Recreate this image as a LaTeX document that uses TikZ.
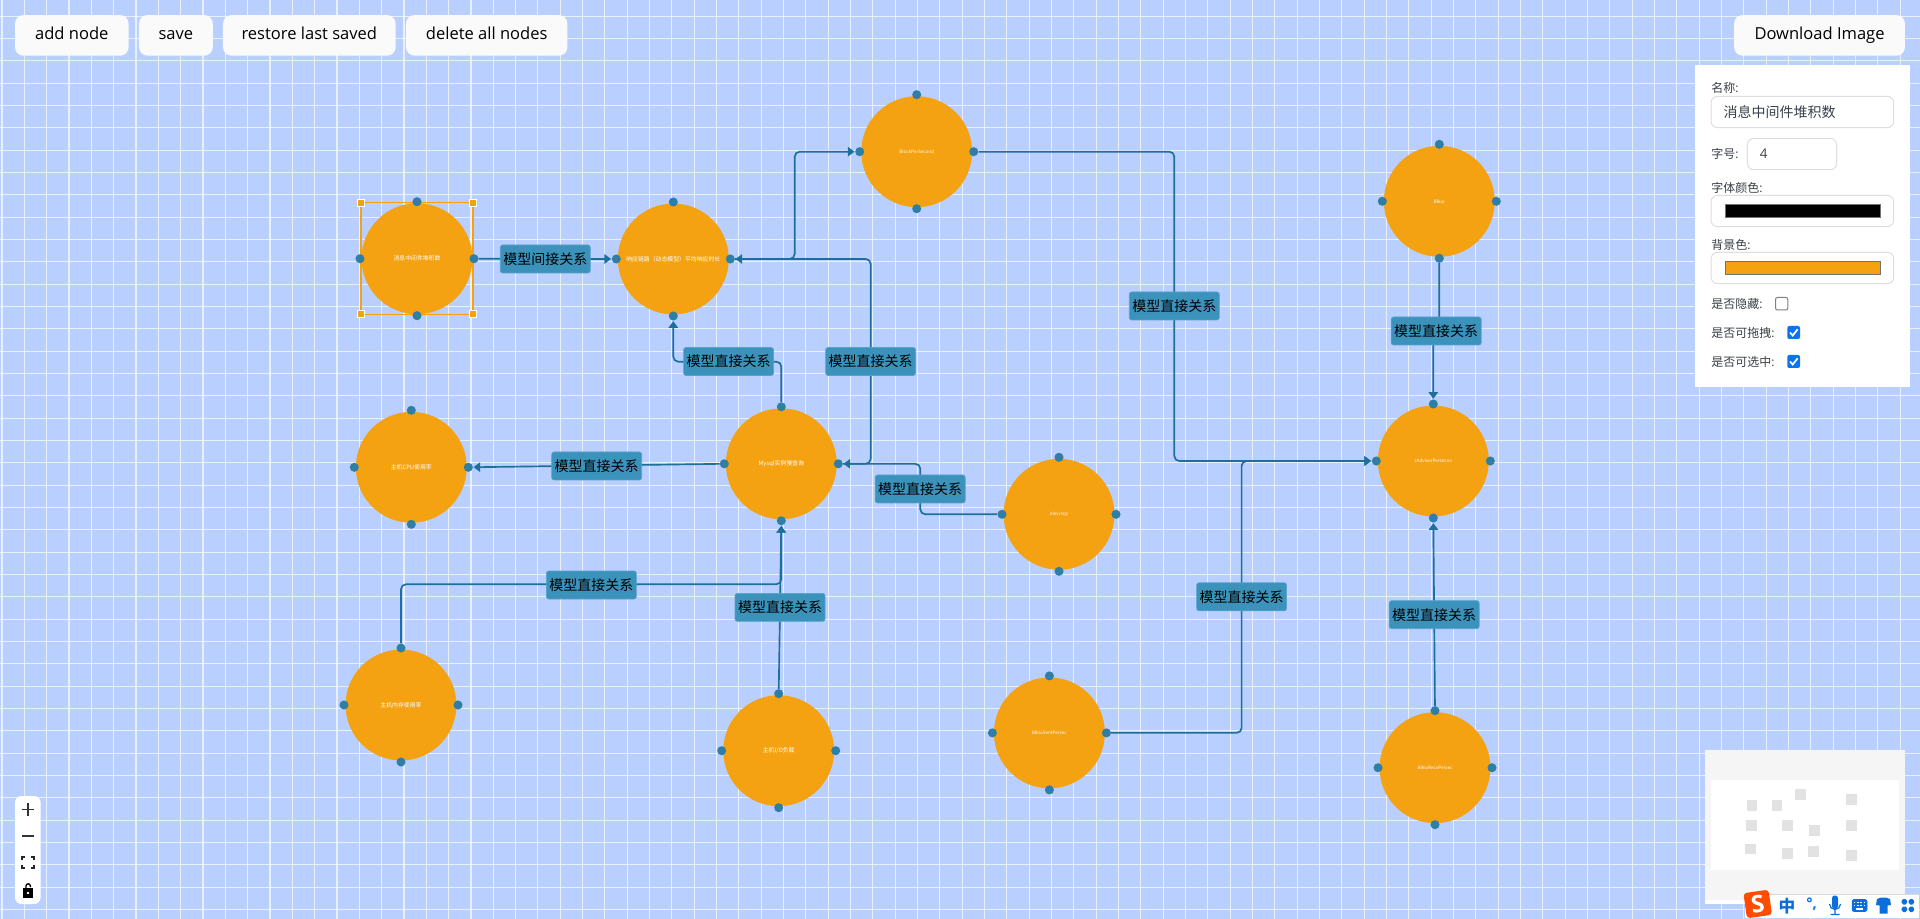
\documentclass[tikz,border=0pt]{standalone}
\usepackage{fontspec}
\setmainfont{Noto Sans CJK SC}
\newfontfamily\latinf{Open Sans}
\usetikzlibrary{arrows.meta,shapes.geometric}
\definecolor{bgblue}{HTML}{B8CFFF}
\definecolor{nodeorange}{HTML}{F4A211}
\definecolor{portblue}{HTML}{2F7EA6}
\definecolor{edgeblue}{HTML}{1D6F9C}
\definecolor{labelblue}{HTML}{3B92BB}
\definecolor{labelborder}{HTML}{5AA2CE}
\definecolor{btnwhite}{HTML}{FAFAFA}
\definecolor{fieldline}{HTML}{DEDEDE}
\definecolor{paneltext}{HTML}{3A3F48}
\definecolor{checkblue}{HTML}{0A74F0}
\definecolor{imeblue}{HTML}{0A6FDC}
\definecolor{miniout}{HTML}{F5F5F5}
\definecolor{minisq}{HTML}{E2E2E2}
\newcommand{\fsz}[1]{\fontsize{#1}{#1}\selectfont}
\tikzset{
  x=0.75pt,y=-0.75pt,
  gridline/.style={white,opacity=.68,line width=.85pt},
  circ/.style={circle,fill=nodeorange,minimum size=83.2pt,inner sep=0pt,text=white,font=\fsz{4.4}},
  port/.style={circle,fill=portblue,minimum size=6.8pt,inner sep=0pt},
  edge/.style={draw=edgeblue,line width=1.25pt,rounded corners=3.75pt},
  arrowedge/.style={edge,-{Triangle[length=5pt,width=7pt]},shorten >=0.3pt},
  edgelabel/.style={fill=labelblue,draw=labelborder,line width=.5pt,rounded corners=1.8pt,minimum width=67.5pt,minimum height=21pt,inner sep=0pt,text=black,font=\fsz{10.5}},
  btn/.style={fill=btnwhite,rounded corners=6.5pt,inner sep=0pt,minimum height=30.5pt,text=black,text depth=2.6pt,text height=9pt,font=\latinf\fsz{12.4}},
  plabel/.style={anchor=west,inner sep=0pt,text=paneltext,font=\fsz{9}},
  field/.style={draw=fieldline,fill=white,line width=.75pt,rounded corners=5pt},
  swatch/.style={draw=black!55,line width=.75pt},
  sel/.style={draw=white,fill=nodeorange,line width=.7pt},
  ctrl/.style={fill=white,rounded corners=5pt},
  minisquare/.style={fill=minisq},
}
\newcommand{\modelnode}[4]{%
  \node[circ] (#1) at (#2,#3) {#4};
  \node[port] (#1-t) at (#2,#3-57) {};
  \node[port] (#1-b) at (#2,#3+57) {};
  \node[port] (#1-l) at (#2-57,#3) {};
  \node[port] (#1-r) at (#2+57,#3) {};
}
\begin{document}
\begin{tikzpicture}
\useasboundingbox (0,0) rectangle (1920,919);
\fill[bgblue] (0,0) rectangle (1920,919);
\foreach \i in {0,...,85} \draw[gridline] ({2+22.33*\i},0) -- ({2+22.33*\i},919);
\foreach \i in {0,...,40} \draw[gridline] (0,{16.2+22.33*\i}) -- (1920,{16.2+22.33*\i});

% selection frame
\draw[nodeorange,line width=.9pt] (361,202.7) rectangle (473,314.5);

% model nodes
\modelnode{queue}{417}{258.7}{消息中间件堆积数}
\modelnode{resp}{673.3}{259}{响应链路（动态模型）平均响应时长}
\modelnode{top}{916.7}{151.7}{\fsz{3.4}BlockPerSecond}
\modelnode{blk}{1439.3}{201.3}{\fsz{3.4}Blkio}
\modelnode{cpu}{411.3}{467.3}{主机CPU使用率}
\modelnode{mysql}{781.3}{463.8}{Mysql实例慢查询}
\modelnode{net}{1059}{514.3}{\fsz{3.4}nlevi-tcp}
\modelnode{hub}{1433.3}{461}{\fsz{3.4}cAdvisorPersecon}
\modelnode{mem}{401}{705}{主机内存使用率}
\modelnode{io}{778.7}{750.7}{主机I/O负载}
\modelnode{sent}{1049.4}{732.9}{\fsz{3.4}BlkioSentPersec}
\modelnode{recv}{1435}{767.7}{\fsz{3.4}BlkioRecvPersec}

% routing points
\coordinate (w1) at (673.3,361.7);
\coordinate (w2) at (781.3,361.7);
\coordinate (w3) at (870.7,463.8);
\coordinate (w4) at (870.7,259);
\coordinate (w5) at (794.7,259);
\coordinate (w6) at (794.7,151.7);
\coordinate (w7) at (1174.3,151.7);
\coordinate (w8) at (1174.3,461);
\coordinate (w9) at (920.3,514.3);
\coordinate (w10) at (920.3,463.8);
\coordinate (w11) at (401,584.3);
\coordinate (w12) at (781.3,584.3);
\coordinate (w13) at (1241.6,732.9);
\coordinate (w14) at (1241.6,461);
\coordinate (w15) at (1439.3,331);
\coordinate (w16) at (1433.3,331);

% connectors
\draw[arrowedge] (queue-r) -- (resp-l);
\draw[arrowedge] (mysql-t) -- (w2) -- (w1) -- (resp-b);
\draw[arrowedge] (mysql-r) -- (w3) -- (w4) -- (resp-r);
\draw[arrowedge] (resp-r) -- (w5) -- (w6) -- (top-l);
\draw[arrowedge] (top-r) -- (w7) -- (w8) -- (hub-l);
\draw[arrowedge] (mysql-l) -- (cpu-r);
\draw[arrowedge] (net-l) -- (w9) -- (w10) -- (mysql-r);
\draw[arrowedge] (mem-t) -- (w11) -- (w12) -- (mysql-b);
\draw[arrowedge] (io-t) -- (mysql-b);
\draw[arrowedge] (sent-r) -- (w13) -- (w14) -- (hub-l);
\draw[arrowedge] (blk-b) -- (w15) -- (w16) -- (hub-t);
\draw[arrowedge] (recv-t) -- (hub-b);

% connector labels
\node[edgelabel] (l1) at (545.3,259) {模型间接关系};
\node[edgelabel] (l2) at (728.6,361.5) {模型直接关系};
\node[edgelabel] (l3) at (870.6,361.5) {模型直接关系};
\node[edgelabel] (l4) at (1174.3,306) {模型直接关系};
\node[edgelabel] (l5) at (596.7,466) {模型直接关系};
\node[edgelabel] (l6) at (920.2,489) {模型直接关系};
\node[edgelabel] (l7) at (591.4,585) {模型直接关系};
\node[edgelabel] (l8) at (780,607.4) {模型直接关系};
\node[edgelabel] (l9) at (1241.6,596.8) {模型直接关系};
\node[edgelabel] (l10) at (1436.2,331) {模型直接关系};
\node[edgelabel] (l11) at (1434.2,614.7) {模型直接关系};

% selection handles
\foreach \hx/\hy in {361.3/202.7,472.7/202.7,361.3/314.3,472.7/314.3}
  \draw[sel] (\hx-3.5,\hy-3.5) rectangle (\hx+3.5,\hy+3.5);

% toolbar
\node[btn,minimum width=85.2pt] (b1) at (71.8,35.4) {add node};
\node[btn,minimum width=55.4pt] (b2) at (175.9,35.4) {save};
\node[btn,minimum width=129.5pt] (b3) at (309.3,35.4) {restore last saved};
\node[btn,minimum width=121.1pt] (b4) at (486.7,35.4) {delete all nodes};
\node[btn,minimum width=128.2pt] (b5) at (1819.5,35.4) {Download Image};

% property panel
\fill[white] (1695,65) rectangle (1910,387);
\node[plabel] (p1) at (1711,88) {名称\latinf :};
\draw[field] (1711,96.3) rectangle (1893.7,127.7);
\node[plabel,font=\fsz{10.5}] (p1v) at (1723.3,112) {消息中间件堆积数};
\node[plabel] (p2) at (1711,154) {字号\latinf :};
\draw[field] (1747.3,138.3) rectangle (1836.7,169.7);
\node[plabel,font=\latinf\fsz{10}] (p2v) at (1759.5,154) {4};
\node[plabel] (p3) at (1711,187.7) {字体颜色\latinf :};
\draw[field] (1711,195.3) rectangle (1893.7,226.7);
\draw[swatch,fill=black] (1725,204.3) rectangle (1880,217.7);
\node[plabel] (p4) at (1711,245) {背景色\latinf :};
\draw[field] (1711,252.3) rectangle (1893.7,283.7);
\draw[swatch,fill=nodeorange] (1725,261.3) rectangle (1880,274.7);
\node[plabel] (p5) at (1711,303.5) {是否隐藏\latinf :};
\draw[draw=black!50,fill=white,line width=.75pt,rounded corners=1.5pt] (1775.5,297.5) rectangle (1787.8,310);
\node[plabel] (p6) at (1711,332.5) {是否可拖拽\latinf :};
\fill[checkblue,rounded corners=1.5pt] (1787.3,326) rectangle (1800,339);
\draw[white,line width=1.3pt] (1790,332.5) -- (1792.7,335.5) -- (1797.6,329.3);
\node[plabel] (p7) at (1711,361.5) {是否可选中\latinf :};
\fill[checkblue,rounded corners=1.5pt] (1787.3,355) rectangle (1800,368);
\draw[white,line width=1.3pt] (1790,361.5) -- (1792.7,364.5) -- (1797.6,358.3);

% minimap
\fill[white] (1705,750) rectangle (1905,904);
\fill[miniout] (1705,750) rectangle (1905,899.5);
\fill[white] (1711,780) rectangle (1899,869.7);
\foreach \ax/\ay/\bx/\by in {201/180/231/213,276/180/306/213,345/147/378/180,498/162/531/195,198/240/231/273,306/240/339/273,387/255/420/288,498/240/531/273,195/312/228/342,306/324/339/357,384/318/417/351,498/330/531/363}
  \fill[minisquare] (1680+\ax/3,740+\ay/3) rectangle (1680+\bx/3,740+\by/3);

% zoom controls
\fill[ctrl] (15,796) rectangle (40.7,904);
\draw[black!80,line width=1.1pt] (21.5,809.3) -- (34,809.3) (27.8,803) -- (27.8,815.6);
\draw[black!80,line width=1.1pt] (21.5,836) -- (34,836);
\draw[black!85,line width=.9pt] (22,860) -- (22,857) -- (25,857) (31,857) -- (34,857) -- (34,860) (34,865) -- (34,868) -- (31,868) (25,868) -- (22,868) -- (22,865);
\fill[black] (23,888) rectangle (33,898);
\draw[black,line width=1pt] (26,888) -- (26,886) arc (180:360:2.2) -- (30.4,887);
\fill[white] (28,893) circle (1.3);

% input method bar
\fill[white] (1745,894) rectangle (1919,917.7);
\draw[black!15,line width=.4pt] (1745,894) -- (1919,894);
\node[fill=orange!60!red,rotate=8,minimum size=19pt,inner sep=0pt,rounded corners=2.5pt,text=white,font=\latinf\bfseries\fsz{18}] (imelogo) at (1757.7,904) {S};
\node[inner sep=0pt,text=imeblue,font=\bfseries\fsz{12.5}] (imec) at (1787,905.7) {中};
\node[inner sep=0pt,text=imeblue,font=\latinf\bfseries\fsz{11}] (imed) at (1811.7,904.5) {°,};
\fill[imeblue,rounded corners=2pt] (1832,895.5) rectangle (1838,909);
\draw[imeblue,line width=.9pt] (1829.5,904) arc (180:0:5.5) (1835,909.5) -- (1835,914) (1830.5,914.5) -- (1839.5,914.5);
\draw[imeblue,fill=imeblue,line width=.4pt,rounded corners=1.5pt] (1852,899.5) rectangle (1867,911.5);
\foreach \kx in {1854.5,1857.8,1861.1,1864.4} \foreach \ky in {902.5,905.5}
  \fill[white] (\kx-.9,\ky-.9) rectangle (\kx+.9,\ky+.9);
\fill[white] (1856,908) rectangle (1863,909.6);
\fill[imeblue] (1877,899) -- (1881,897.5) -- (1885.7,897.5) -- (1890,899) -- (1891,905) -- (1887.5,905.5) -- (1887.5,913.5) -- (1879.5,913.5) -- (1879.5,905.5) -- (1876,905) -- cycle;
\foreach \gx/\gy in {1901.5/899,1908.5/899,1901.5/906.5,1908.5/906.5}
  \fill[imeblue,rounded corners=1.4pt] (\gx,\gy) rectangle (\gx+5.6,\gy+5.6);
\end{tikzpicture}
\end{document}
